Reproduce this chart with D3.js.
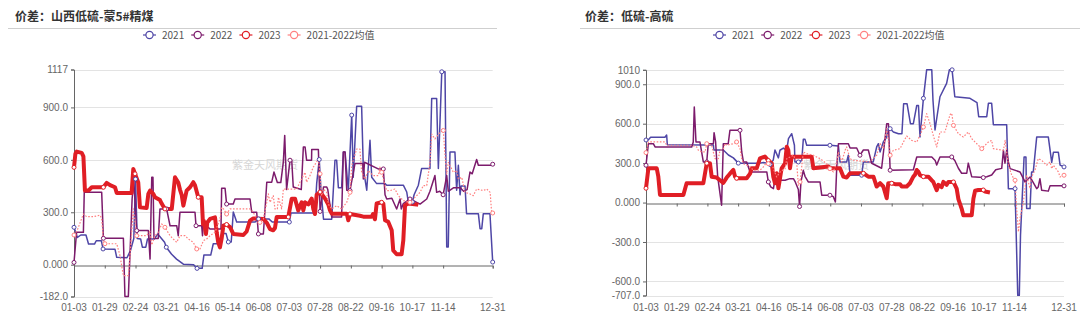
<!DOCTYPE html>
<html>
<head>
<meta charset="utf-8">
<script src="https://cdn.jsdelivr.net/npm/d3@7"></script>
<style>
  body { margin: 0; background: #fff; }
  svg { display: block; font-family: "Noto Sans CJK SC", "Noto Sans", sans-serif; }
</style>
</head>
<body>
<svg width="1080" height="320"></svg>
<script>
// category axis: trading days 0..245, a label every 18 days plus the last day
var xLabels = ["01-03","01-29","02-24","03-21","04-16","05-14","06-08","07-03","07-28","08-22","09-16","10-17","11-14","12-31"];
var xLabelIdx = [0,18,36,54,72,90,108,126,144,162,180,198,216,245];
var seriesNames = ["2021", "2022", "2023", "2021-2022均值"];

// 价差：山西低硫-蒙5#精煤  [day index, value]
var left2021 = [[0,214],[2,156],[4,170],[7,170],[8.5,118],[12,118],[13,137],[16,137],[17,90],[24,88],[25,42],[31,40],[33,80],[35,150],[36,490],[37,150],[39,147],[40,100],[42,100],[43,147],[47,147],[49,176],[53,128],[54,100],[57,61],[60,32],[64,3],[70,0],[72,-21],[75,-21],[76,55],[80,55],[81.5,120],[85,120],[86.4,178],[89,178],[90.3,130],[92,130],[93.2,301],[95.2,244],[106,244],[108,262],[114,262],[116,244],[126,244],[127,296],[141,296],[142,464],[143.5,602],[144.5,430],[146,260],[150.8,260],[152.7,598],[153.7,598],[154.7,440],[156.6,440],[157.6,645],[158.6,645],[160.5,426],[162.5,856],[163.4,500],[165.4,907],[168.3,907],[169.3,550],[171.3,426],[173.2,712],[174.2,500],[177.1,464],[182,464],[183,455],[192.7,455],[194.7,416],[195.6,359],[198,359],[199,400],[201.5,455],[203.4,550],[208.3,550],[209.3,951],[212.2,951],[213.2,550],[215.2,1104],[217.1,1104],[218.1,101],[219,101],[220,645],[222.9,645],[223.9,426],[224.9,569],[225.9,400],[226.5,450],[228.8,450],[229.7,292],[236.6,292],[237.6,206],[238.6,206],[239.5,292],[243.4,292],[245,15]];
var left2022 = [[0,13],[1.5,185],[5.5,185],[6,414],[16.2,414],[17.2,151],[28.9,151],[29.8,-182],[31.8,-182],[34,376],[35,480],[36.7,195],[43.5,195],[44.5,32],[45.5,500],[46.2,500],[46.8,150],[49.3,150],[50.3,319],[54.2,319],[56.2,223],[60.1,223],[61,166],[62,300],[70.8,300],[71.4,223],[74.7,223],[75.2,166],[75.7,240],[79.6,204],[86,204],[86.4,437],[88.4,437],[89.3,347],[93.2,347],[94.2,376],[103,376],[104,300],[106.9,300],[107.9,176],[110.8,176],[111.8,319],[112.8,472],[115.7,472],[117,530],[119,470],[121,470],[122.5,588],[123.3,740],[124.4,430],[126.4,598],[127.4,598],[128.3,445],[133,430],[134.2,674],[135.2,674],[136.1,598],[139,598],[139.1,659],[143,659],[144,305],[146,445],[147.9,445],[148.5,430],[150.8,273],[156.6,273],[157.6,645],[158.6,645],[159.6,426],[161.5,424],[164.4,579],[169,579],[169.3,490],[170,586],[178,548],[181,548],[182,400],[183,376],[186,380],[188.8,319],[190.8,376],[191.5,319],[192.7,350],[196.6,376],[202.5,347],[206.4,376],[208.3,420],[211.2,510],[212.2,414],[214,420],[216,400],[218.1,510],[219,420],[222,440],[226,440],[228,420],[230,430],[231.7,530],[233,520],[235.6,602],[236.6,569],[244.4,569],[245,575]];
var left2023 = [[0,557],[0.8,634],[1.6,647],[4.5,640],[5.5,620],[6.4,424],[8.4,424],[10.4,443],[17.2,443],[19.1,468],[21.1,455],[24,443],[25,410],[33.7,410],[34.7,548],[35.7,520],[37.6,470],[38.6,328],[42.5,325],[43.5,405],[44.5,424],[46.4,405],[47.4,386],[50.3,370],[51.3,350],[53.2,319],[57.2,319],[59.1,500],[61,470],[62,430],[63,400],[64,338],[65.9,424],[67.9,443],[69.8,472],[70.8,455],[72.7,386],[74.7,386],[75.5,230],[76,250],[77.2,176],[78,242],[79.6,262],[82.5,271],[83.5,185],[84.4,128],[85.4,99],[86.4,150],[87.4,223],[89.3,230],[91.3,215],[93.2,176],[99.1,170],[101,190],[103,252],[104.9,265],[110.8,262],[112.8,240],[114.7,204],[116.6,197],[117.6,210],[118.6,273],[125.4,273],[127.4,378],[129.3,378],[131.2,311],[133.2,357],[134.2,311],[135.2,357],[137.1,345],[139.1,378],[140,320],[141,290],[142,400],[144,416],[146.9,378],[148.8,345],[149.8,311],[150.8,292],[159.6,292],[160.5,254],[161.5,290],[167.3,280],[169.3,275],[174.2,275],[175,290],[176.1,260],[177.1,350],[180,357],[181,350],[182,254],[183.9,245],[185.9,197],[186.8,82],[188.8,60],[191.7,60],[192.7,140],[193.7,340],[195.6,350],[200.5,345],[201.5,342]];
var leftAvg = [[0,170],[2,200],[5.5,290],[7.4,275],[11.3,275],[15.2,283],[16.2,265],[17.2,137],[18.1,120],[25,120],[26.9,52],[28.9,-63],[31.8,-63],[32.8,52],[34.7,319],[36.7,166],[42.5,166],[44.5,190],[45.5,113],[47.4,166],[49.3,185],[51.3,233],[53.2,214],[56.2,166],[58.1,147],[60.1,128],[62,166],[65,166],[66.9,147],[69.8,128],[71.8,90],[73.7,90],[75.7,137],[77.6,147],[79.6,166],[82.5,185],[85.4,261],[86.4,328],[87.5,319],[89.3,290],[91.3,319],[103,319],[104.9,300],[106.9,261],[108.8,242],[110.8,261],[112.8,357],[113.7,405],[114.7,357],[116.6,395],[117.6,319],[119,319],[119.6,386],[121.5,319],[122.5,433],[130.3,433],[132.2,472],[135.2,529],[136.1,472],[138.1,510],[140,558],[143,605],[144,520],[144.9,395],[145.9,433],[147.9,414],[148.8,347],[150.8,319],[153.7,338],[156.6,319],[159.6,357],[161.5,414],[162.5,567],[165.4,662],[167.3,662],[168.3,529],[170.3,490],[172.2,539],[175.1,510],[178.1,510],[179,558],[180,529],[182,453],[183,424],[184.9,424],[187.8,433],[189.8,395],[192.7,367],[196.6,357],[200.5,395],[202.5,414],[204.4,453],[206.4,453],[208.3,586],[209.3,748],[211.2,720],[214.2,758],[216.1,768],[217.1,625],[218.1,519],[219,586],[220,567],[222,529],[223.9,539],[224.9,490],[226.9,500],[228.8,414],[231.7,405],[233.6,395],[235.6,433],[239.5,424],[241.5,433],[243.5,414],[244.4,296],[245,296]];
var leftTicks = [1117, 900, 600, 300, 0, -182];
var leftTickText = ["1117", "900.0", "600.0", "300.0", "0.000", "-182.0"];

// 价差：低硫-高硫
var right2021 = [[0,476],[1.4,478],[2.7,497],[11.1,497],[12.1,514],[12.5,440],[39.5,438],[39.8,400],[45.3,400],[48.3,362],[51.2,340],[54.1,300],[66.8,300],[68.8,305],[70.8,300],[72.7,290],[74.6,324],[75.6,400],[77.6,340],[78.5,398],[80.5,415],[82.5,398],[83.5,486],[85.4,524],[87,436],[87.3,309],[89.3,309],[91.3,320],[92.2,481],[93.2,481],[94.2,436],[107.8,436],[112.8,430],[113.7,309],[117.6,309],[118.6,360],[119.6,208],[126.4,208],[127.4,309],[133.2,309],[135.2,423],[136.2,448],[137.2,385],[139.1,461],[141.1,499],[142.1,562],[143.1,562],[145,537],[148,524],[150,524],[151,752],[153,752],[155,600],[156.7,600],[158.7,739],[159.7,739],[160.6,499],[162.6,793],[164.5,1010],[167.5,1010],[168.2,780],[169.4,552],[172.3,805],[176.2,907],[177.8,1010],[179.4,1010],[181,805],[189.9,793],[194,761],[195,653],[199.7,653],[200.7,755],[202.6,755],[203.6,592],[211.4,592],[212.4,106],[216.3,106],[217.9,-706],[218.8,-706],[219.5,-250],[221.6,347],[222.7,347],[223.1,-46],[225.1,-46],[226,233],[227,233],[229,499],[235.8,499],[237.8,306],[238.8,382],[241.7,382],[242.7,285],[245,271]];
var right2022 = [[0,284],[1.4,448],[4.3,448],[5.3,423],[26.8,423],[27.7,461],[28.3,727],[29.3,461],[31.6,461],[33.6,309],[35.6,309],[36.5,448],[39.5,448],[39.9,532],[40.8,461],[42,200],[44.3,-20],[45.3,448],[48.2,448],[49.2,550],[55.1,550],[56.1,385],[57.1,309],[59,309],[61,233],[70.8,233],[71.7,157],[73.1,119],[74.7,106],[75.6,182],[76.6,208],[77.6,170],[81.5,170],[84.4,182],[86.4,182],[87.5,157],[89.3,100],[90,-30],[90.8,157],[92.2,245],[93.2,200],[95.1,157],[102,157],[103,56],[107.8,56],[109.8,45],[111,5],[111.8,271],[112.8,448],[118.6,448],[119.6,415],[123.5,415],[125.4,360],[127.4,400],[130.3,400],[132.3,299],[138.1,261],[141.1,600],[142.1,600],[143.1,246],[156.7,250],[158.7,347],[167.5,347],[169.5,320],[170.4,286],[172.3,347],[179.2,347],[181,320],[183.1,261],[185,223],[188,223],[188.9,300],[190.9,197],[197.7,190],[199.7,197],[202.6,210],[205,250],[208.5,260],[209.5,398],[210.4,300],[211.4,400],[212.4,309],[213.4,258],[219.2,233],[221.2,182],[222.1,157],[225.1,195],[229,106],[229.9,119],[230.9,182],[231.9,94],[235.8,87],[236.8,127],[245,127]];
var right2023 = [[0,109],[1.4,261],[6.3,261],[7.2,200],[8.2,58],[21.9,58],[23.8,147],[33.6,147],[35.6,299],[37.5,299],[38.5,197],[41.4,190],[43.4,170],[45.3,150],[47.3,190],[49.2,220],[51.2,248],[52.2,197],[53.1,185],[59,185],[61,220],[61.9,261],[64.9,261],[66.8,337],[69.7,350],[71.7,320],[73.7,299],[74.6,197],[75.6,147],[76.6,223],[77.6,109],[78.6,190],[79.5,261],[81.5,299],[82.5,425],[83.4,400],[84.4,261],[85.4,349],[97.1,349],[98.1,261],[106.9,275],[107.8,261],[113.7,261],[115.7,197],[117.6,190],[119.6,223],[127.4,223],[130.3,197],[133.3,197],[135.2,122],[137.2,147],[139.1,122],[141.1,33],[142,147],[144,147],[146,140],[148.9,140],[149.9,122],[152.8,122],[154.7,147],[156.7,197],[157.6,210],[158.7,248],[159.6,235],[160.6,208],[162.6,197],[165.5,197],[167.4,170],[168.4,157],[170.4,94],[171.4,135],[173.3,117],[174.3,157],[176.2,135],[177.2,157],[180.2,157],[182.1,106],[183.1,26],[185,-46],[186,-96],[190.9,-96],[191.9,30],[192.9,90],[194.8,96],[197.7,96],[198.7,84],[201.6,76]];
var rightAvg = [[0,380],[1.4,461],[11.1,461],[12.1,436],[26.8,436],[29.7,423],[30.7,398],[32.6,385],[34.6,385],[35.6,448],[38.5,436],[40.4,334],[42.4,334],[43.4,398],[45.3,405],[46.3,448],[47.3,436],[51.2,448],[53.1,461],[55.1,410],[56.1,334],[57.1,296],[59,284],[61,271],[62.9,246],[66.8,246],[68.8,271],[70.8,309],[71.7,296],[73.7,296],[74.7,258],[76.6,195],[78.6,233],[81.5,258],[82.5,334],[86.4,360],[88.3,309],[89.3,132],[90.3,157],[92.2,385],[94.2,372],[98.1,360],[102,334],[105.9,296],[107.8,258],[109.8,233],[111.8,309],[112.8,385],[114.7,309],[116.7,398],[117.6,423],[119.6,334],[121.5,322],[131.3,309],[135.2,360],[137.2,448],[139.1,410],[141.1,562],[143.1,360],[145,398],[148.9,410],[150.9,461],[152.8,506],[155.7,473],[158.7,461],[160.6,511],[162.6,575],[164.5,676],[166.5,600],[168.4,510],[170.4,423],[172.3,537],[175.2,537],[178.2,668],[179.2,680],[180.2,587],[183.1,524],[186,499],[188.9,537],[190.9,486],[194.8,436],[196.8,410],[200.7,461],[202.6,473],[203.6,410],[209.5,398],[210.5,473],[211.4,385],[212.4,284],[214.4,207],[216.3,170],[217.3,-58],[218.3,-223],[219.2,-122],[221.2,5],[223.1,208],[225.1,106],[226,195],[228,246],[229.9,334],[231.9,322],[234.8,284],[236.8,309],[237.8,258],[238.8,284],[241.7,233],[242.7,195],[245,208]];
var rightTicks = [1010, 900, 600, 300, 0, -300, -600, -707];
var rightTickText = ["1010", "900.0", "600.0", "300.0", "0.000", "-300.0", "-600.0", "-707.0"];

var colors = ["#4e46a6", "#7c1b6c", "#e01e25", "#ff8080"];
var widths = [1.5, 1.5, 4, 1.2];
var axisFont = "'Liberation Sans', Arial, sans-serif";

var svg = d3.select("svg");

function drawChart(o) {
    var g = svg.append("g");
    var x = d3.scaleLinear().domain([0, 245]).range([o.left, o.right]);
    var y = d3.scaleLinear().domain([o.ticks[o.ticks.length - 1], o.ticks[0]]).range([o.bottom, o.top]);

    // title + divider
    g.append("text").attr("x", o.titleX).attr("y", 21)
        .attr("font-size", 12).attr("font-weight", 700).attr("fill", "#333")
        .text(o.title);
    g.append("line").attr("x1", o.lineX1).attr("x2", o.lineX2)
        .attr("y1", 28.5).attr("y2", 28.5).attr("stroke", "#cfcfcf");

    // legend
    var lx = o.legendX;
    seriesNames.forEach(function (name, i) {
        var it = g.append("g").attr("transform", "translate(" + lx + ",35)");
        it.append("line").attr("x1", 0).attr("x2", 13).attr("stroke", colors[i]).attr("stroke-width", 1.2);
        it.append("circle").attr("cx", 6.5).attr("r", 3.6).attr("fill", "#fff")
            .attr("stroke", colors[i]).attr("stroke-width", 1.2);
        var t = it.append("text").attr("x", 19).attr("y", 3.5)
            .attr("font-size", 10).attr("fill", "#555").text(name);
        lx += 19 + t.node().getComputedTextLength() + 7;
    });

    // grid lines
    g.selectAll(".grid").data(o.ticks.filter(function (d) { return d !== 0; })).join("line")
        .attr("x1", o.left).attr("x2", o.right)
        .attr("y1", function (d) { return Math.round(y(d)) + 0.5; })
        .attr("y2", function (d) { return Math.round(y(d)) + 0.5; })
        .attr("stroke", "#e3e3e3");

    // watermark
    g.append("text").attr("x", o.markX).attr("y", 169).attr("font-size", 11)
        .attr("fill", "#d6d6d6").text("紫金天风期货");

    // y axis
    var yAxis = g.append("g").attr("transform", "translate(" + o.left + ",0)")
        .call(d3.axisLeft(y).tickValues(o.ticks).tickSize(3).tickPadding(3)
            .tickFormat(function (d, i) { return o.tickText[i]; }));
    yAxis.select(".domain").attr("stroke", "#666");
    yAxis.selectAll(".tick line").attr("stroke", "#666");
    yAxis.selectAll("text").attr("font-size", 10).attr("fill", "#666")
        .attr("font-family", axisFont);

    // x axis line on zero, labels at the bottom
    var xAxis = g.append("g").attr("transform", "translate(0," + (Math.round(y(0)) + 0.5) + ")")
        .call(d3.axisBottom(x).tickValues(xLabelIdx).tickSize(3).tickFormat(""));
    xAxis.select(".domain").attr("stroke", "#666");
    xAxis.selectAll(".tick line").attr("stroke", "#666");
    g.selectAll(".xl").data(xLabels).join("text")
        .attr("x", function (d, i) { return x(xLabelIdx[i]); })
        .attr("y", 311).attr("text-anchor", "middle")
        .attr("font-size", 10).attr("fill", "#666").attr("font-family", axisFont)
        .text(function (d) { return d; });

    // series
    var line = d3.line().x(function (d) { return x(d[0]); }).y(function (d) { return y(d[1]); });
    o.series.forEach(function (s, i) {
        var p = g.append("path").datum(s).attr("d", line).attr("fill", "none")
            .attr("stroke", colors[i]).attr("stroke-width", widths[i])
            .attr("stroke-linejoin", "round");
        if (i === 3) p.attr("stroke-dasharray", "1.6,1.6");
    });
    // small hollow markers on the vertex nearest each labelled day
    o.series.forEach(function (s, i) {
        var pts = [];
        xLabelIdx.forEach(function (t) {
            var best = d3.least(s, function (d) { return Math.abs(d[0] - t); });
            if (Math.abs(best[0] - t) < 1.6) pts.push(best);
        });
        g.selectAll(null).data(pts).join("circle")
            .attr("cx", function (d) { return x(d[0]); })
            .attr("cy", function (d) { return y(d[1]); })
            .attr("r", 2).attr("fill", "#fff")
            .attr("stroke", colors[i]).attr("stroke-width", 1);
    });
}

drawChart({
    title: "价差：山西低硫-蒙5#精煤", titleX: 15, lineX1: 8, lineX2: 497, legendX: 143, markX: 232,
    left: 74, right: 492.7, top: 69.5, bottom: 296.5,
    ticks: leftTicks, tickText: leftTickText,
    series: [left2021, left2022, left2023, leftAvg]
});
drawChart({
    title: "价差：低硫-高硫", titleX: 585, lineX1: 580, lineX2: 1080, legendX: 713, markX: 803,
    left: 646, right: 1064, top: 69.8, bottom: 295.5,
    ticks: rightTicks, tickText: rightTickText,
    series: [right2021, right2022, right2023, rightAvg]
});
</script>
</body>
</html>
